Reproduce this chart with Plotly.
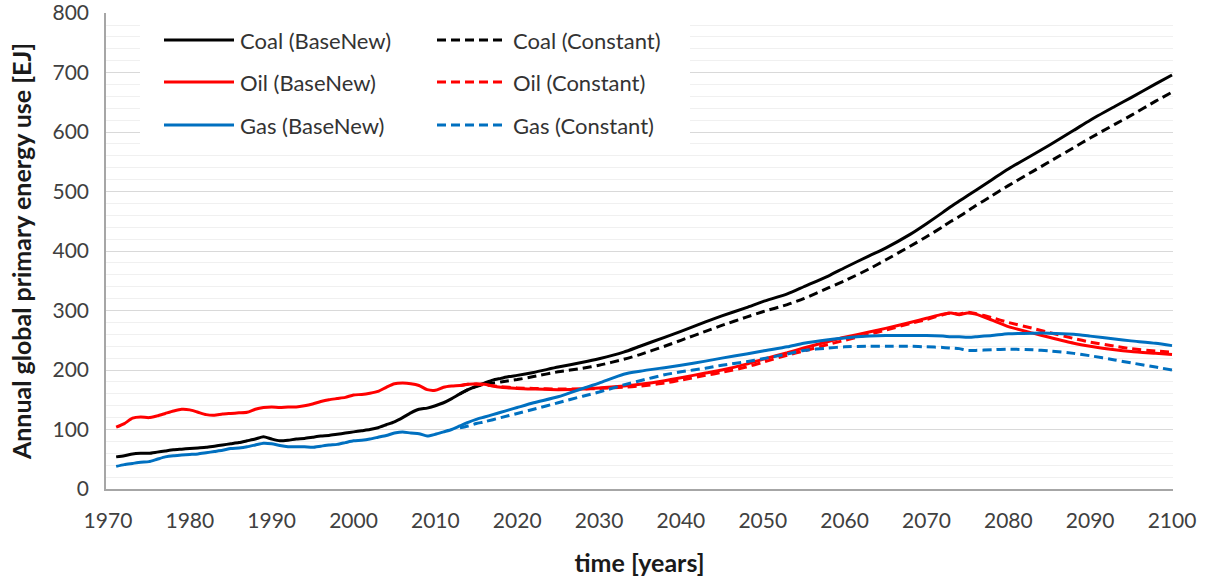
import plotly.graph_objects as go

# ---- data -------------------------------------------------------------
years_base = list(range(1971, 2021)) + [
    2022, 2025, 2028, 2030, 2033, 2035, 2038, 2040, 2043, 2045, 2048, 2050,
    2053, 2055, 2058, 2060, 2063, 2065, 2068, 2070, 2072, 2073, 2074, 2075,
    2076, 2078, 2080, 2083, 2085, 2088, 2090, 2093, 2095, 2098, 2100]

coal_base = [
    54, 56, 59, 60, 60, 62, 64, 66, 67, 68,
    69, 70, 72, 74, 76, 78, 81, 84, 88, 84,
    81, 82, 84, 85, 87, 89, 90, 92, 94, 96,
    98, 100, 103, 108, 113, 120, 128, 134, 136, 140,
    145, 152, 160, 167, 173, 178, 183, 186, 189, 191,
    196, 205, 213, 219, 230, 240, 255, 265, 281, 291, 305, 315,
    328, 340, 358, 372, 392, 405, 428, 446, 465, 475, 484, 493,
    502, 520, 538, 562, 578, 603, 620, 643, 658, 681, 696]

oil_base = [
    104, 110, 119, 121, 120, 123, 127, 131, 134, 133,
    129, 125, 124, 126, 127, 128, 129, 134, 137, 138,
    137, 138, 138, 140, 143, 147, 150, 152, 154, 158,
    159, 161, 164, 171, 177, 178, 177, 174, 167, 166,
    171, 173, 174, 176, 177, 176, 173, 171, 170, 169,
    168, 167, 168, 170, 173, 176, 182, 187, 195, 200, 210, 218,
    229, 237, 248, 255, 264, 270, 280, 287, 294, 296, 293, 296,
    294, 284, 273, 262, 255, 245, 240, 234, 231, 228, 226]

gas_base = [
    38, 41, 43, 45, 46, 50, 54, 56, 57, 58,
    59, 61, 63, 65, 68, 69, 71, 74, 77, 76,
    73, 71, 71, 71, 70, 72, 74, 75, 78, 81,
    82, 84, 87, 90, 94, 96, 94, 93, 89, 92,
    96, 100, 106, 112, 117, 121, 125, 129, 133, 137,
    145, 155, 169, 178, 193, 198, 204, 208, 215, 220, 227, 232,
    239, 245, 251, 254, 257, 258, 258, 258, 257, 256, 256, 255,
    256, 258, 261, 262, 262, 260, 257, 252, 249, 245, 241]

years_const = [
    2013, 2014, 2015, 2016, 2018, 2020, 2022, 2025, 2028, 2030, 2033, 2035,
    2038, 2040, 2043, 2045, 2048, 2050, 2053, 2055, 2058, 2060, 2063, 2065,
    2068, 2070, 2072, 2073, 2074, 2075, 2076, 2078, 2080, 2083, 2085, 2088,
    2090, 2093, 2095, 2098, 2100]

coal_const = [
    160, 167, 172, 176, 180, 184, 189, 197, 203, 208, 218, 226,
    240, 250, 265, 275, 289, 298, 310, 320, 338, 350, 370, 385,
    408, 424, 441, 450, 458, 467, 476, 493, 510, 534, 550, 574,
    590, 613, 628, 652, 667]

oil_const = [
    174, 176, 176, 175, 172, 170, 169, 168, 168, 169, 171, 173,
    178, 183, 191, 196, 205, 213, 225, 232, 243, 250, 260, 267,
    278, 285, 293, 296, 294, 297, 295, 288, 280, 270, 263, 253,
    247, 240, 236, 232, 230]

gas_const = [
    103, 106, 110, 113, 120, 127, 134, 145, 156, 163, 175, 182,
    192, 197, 203, 208, 214, 219, 227, 233, 237, 239, 240, 240,
    240, 239, 238, 237, 236, 233, 233, 234, 235, 234, 232, 228,
    224, 217, 212, 205, 200]

x_ticks = [1970, 1980, 1990, 2000, 2010, 2020, 2030, 2040, 2050, 2060, 2070, 2080, 2090, 2100]
y_ticks = [0, 100, 200, 300, 400, 500, 600, 700, 800]

# ---- styling ----------------------------------------------------------
W, H = 1210, 581
M_L, M_R, M_T, M_B = 106, 37, 13, 92
FONT = "Lato"
DASH = "9px,5px"

series = [
    ("Coal (BaseNew)", years_base, coal_base, "#000000", "solid"),
    ("Coal (Constant)", years_const, coal_const, "#000000", DASH),
    ("Oil (BaseNew)", years_base, oil_base, "#FF0000", "solid"),
    ("Oil (Constant)", years_const, oil_const, "#FF0000", DASH),
    ("Gas (BaseNew)", years_base, gas_base, "#0070C0", "solid"),
    ("Gas (Constant)", years_const, gas_const, "#0070C0", DASH),
]

fig = go.Figure()
for name, xs, ys, color, dash in series:
    fig.add_trace(go.Scatter(
        x=xs, y=ys, name=name, mode="lines",
        line=dict(color=color, width=3, dash=dash, shape="spline", smoothing=0.6),
        showlegend=False))

# ---- legend box (two columns, three rows) -----------------------------
plot_w = W - M_L - M_R
plot_h = H - M_T - M_B


def px(xp):
    return (xp - M_L) / plot_w


def py(yp):
    return (H - M_B - yp) / plot_h


shapes = [dict(type="rect", xref="paper", yref="paper",
               x0=px(140), x1=px(690), y0=py(150), y1=py(16),
               fillcolor="white", line=dict(width=0), layer="above")]
annotations = []
col_x = [164, 437]
row_y = [40, 82, 125]
for i, (name, xs, ys, color, dash) in enumerate(series):
    cx = col_x[i % 2]
    ry = row_y[i // 2]
    shapes.append(dict(type="line", xref="paper", yref="paper",
                       x0=px(cx), x1=px(cx + 70), y0=py(ry), y1=py(ry),
                       line=dict(color=color, width=3, dash=dash), layer="above"))
    annotations.append(dict(xref="paper", yref="paper", x=px(cx + 74), y=py(ry),
                            text=name, showarrow=False, xanchor="left", yanchor="middle",
                            font=dict(family=FONT, size=22, color="#333333")))

fig.update_layout(
    width=W, height=H,
    margin=dict(l=M_L, r=M_R, t=M_T, b=M_B, pad=0, autoexpand=False),
    paper_bgcolor="white", plot_bgcolor="white",
    font=dict(family=FONT, color="#404040"),
    shapes=shapes, annotations=annotations,
    xaxis=dict(
        range=[1969.76, 2100.12], tickvals=x_ticks, ticktext=[str(t) for t in x_ticks],
        automargin=False,
        showgrid=False, zeroline=False, showline=True, linecolor="#A6A6A6", linewidth=1.5,
        ticks="", ticklabelstandoff=12, ticklabeloverflow="allow",
        tickfont=dict(family=FONT, size=21, color="#404040"),
        title=dict(text="<b>time [years]</b>", standoff=24,
                   font=dict(family=FONT, size=25, color="#1a1a1a")),
    ),
    yaxis=dict(
        range=[0, 800.2], tickvals=y_ticks, showgrid=True, gridcolor="#D9D9D9", gridwidth=1,
        minor=dict(dtick=20, tick0=0, showgrid=True, gridcolor="#F0F0F0", gridwidth=1),
        automargin=False,
        zeroline=False, showline=True, linecolor="#A6A6A6", linewidth=1.5,
        ticks="", ticklabelstandoff=11, ticklabeloverflow="allow",
        tickfont=dict(family=FONT, size=21, color="#404040"),
        title=dict(text="<b>Annual global primary energy use [EJ]</b>", standoff=14,
                   font=dict(family=FONT, size=25, color="#1a1a1a")),
    ),
)

fig.write_html("out.html")
